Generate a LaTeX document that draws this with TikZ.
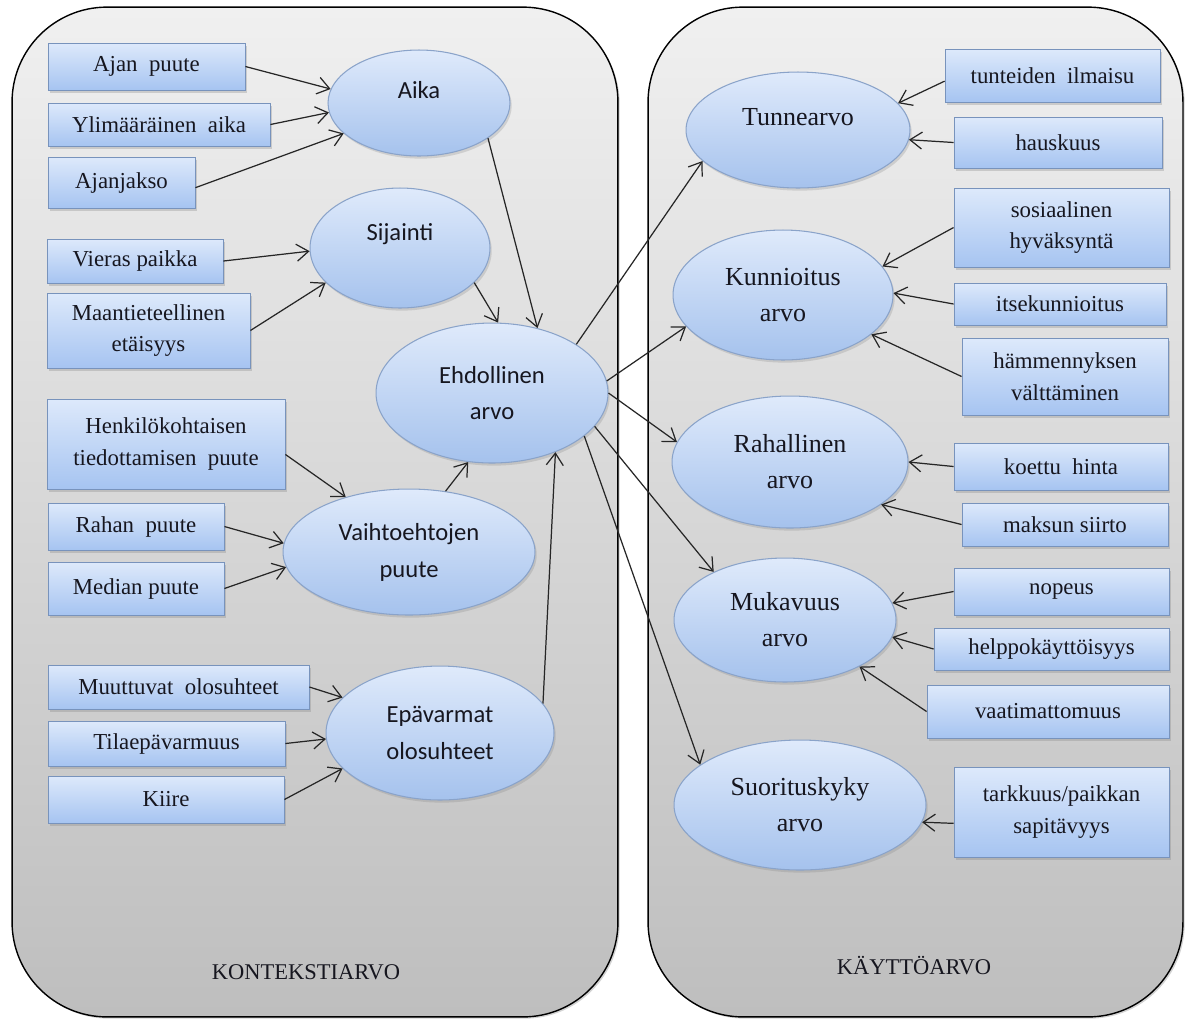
\documentclass[tikz,border=0pt]{standalone}
\usepackage{fontspec}
\setmainfont{Liberation Serif}
\newfontfamily\calibfont{Carlito}
\usetikzlibrary{arrows.meta, positioning, shapes.geometric, shadows}
\definecolor{boxtop}{HTML}{DDE9FB}
\definecolor{boxbot}{HTML}{A6C4F1}
\definecolor{boxline}{HTML}{7893BC}
\definecolor{elltop}{HTML}{DFEAFB}
\definecolor{ellbot}{HTML}{A5C2ED}
\definecolor{ellline}{HTML}{8AA3C9}
\definecolor{paneltop}{HTML}{F0F0F0}
\definecolor{panelbot}{HTML}{BEBEBE}
\definecolor{inktext}{HTML}{16161F}

\begin{document}
\begin{tikzpicture}[
	x=0.02cm, y=-0.02cm,
	panel/.style={draw=black, line width=0.8pt, rounded corners=1.9cm, top color=paneltop, bottom color=panelbot, drop shadow={shadow xshift=1pt, shadow yshift=-1pt, opacity=0.35}},
	paneltext/.style={font=\fontsize{12.8}{15}\selectfont, text=inktext},
	box/.style={draw=boxline, line width=0.5pt, top color=boxtop, bottom color=boxbot, align=center, inner sep=2pt, text=inktext, font=\fontsize{13}{18}\selectfont, drop shadow={shadow xshift=1.2pt, shadow yshift=-1.5pt, opacity=0.3}},
	ell/.style={ellipse, draw=ellline, line width=0.6pt, top color=elltop, bottom color=ellbot, align=center, inner sep=0pt, text=inktext, drop shadow={shadow xshift=1pt, shadow yshift=-1.5pt, opacity=0.25}},
	lell/.style={ell, font=\calibfont\fontsize{14}{21}\selectfont},
	rell/.style={ell, font=\fontsize{14.8}{20.5}\selectfont},
	arrow/.style={-{Straight Barb[length=2.4mm, width=3.4mm]}, line width=0.7pt, draw=black!85}
]
\useasboundingbox (0,0) rectangle (1189,1019);

\node[panel, minimum width=12.12cm, minimum height=20.2cm] (kontekstipaneeli) at (315,512) {};
\node[panel, minimum width=10.7cm, minimum height=20.2cm] (kayttopaneeli) at (915.5,512) {};
\node[paneltext] (kontekstiarvo) at (306,972) {KONTEKSTIARVO};
\node[paneltext] (kayttoarvo) at (914,966) {KÄYTTÖARVO};

\node[box, minimum width=3.94cm, minimum height=0.94cm] (ajan) at (146.5,66.5) {Ajan\ \ puute};
\node[box, minimum width=4.44cm, minimum height=0.86cm] (ylim) at (159,124.5) {Ylimääräinen\ \ aika};
\node[box, minimum width=2.94cm, minimum height=1.02cm] (jakso) at (121.5,182.5) {Ajanjakso};
\node[box, minimum width=3.52cm, minimum height=0.88cm] (vieras) at (135,261) {Vieras paikka};
\node[box, minimum width=4.06cm, minimum height=1.5cm] (maant) at (148.5,330.5) {Maantieteellinen\\etäisyys};
\node[box, minimum width=4.76cm, minimum height=1.8cm] (henk) at (166,444) {Henkilökohtaisen\\tiedottamisen\ \ puute};
\node[box, minimum width=3.52cm, minimum height=0.94cm] (rahan) at (136,526.5) {Rahan\ \ puute};
\node[box, minimum width=3.52cm, minimum height=1.06cm] (median) at (136,588.5) {Median puute};
\node[box, minimum width=5.22cm, minimum height=0.88cm] (muutt) at (178.5,687) {Muuttuvat\ \ olosuhteet};
\node[box, minimum width=4.74cm, minimum height=0.9cm] (tila) at (166.5,743.5) {Tilaepävarmuus};
\node[box, minimum width=4.72cm, minimum height=0.94cm] (kiire) at (166,799.5) {Kiire};

\node[lell, minimum width=3.64cm, minimum height=2.12cm, text depth=15pt] (aika) at (419,103) {Aika};
\node[lell, minimum width=3.6cm, minimum height=2.4cm, text depth=18pt] (sijainti) at (400,248) {Sijainti};
\node[lell, minimum width=4.64cm, minimum height=2.8cm] (ehd) at (492,393) {Ehdollinen\\arvo};
\node[lell, minimum width=5.04cm, minimum height=2.52cm] (vaihto) at (409,552) {Vaihtoehtojen\\puute};
\node[lell, minimum width=4.56cm, minimum height=2.68cm] (epav) at (440,733) {Epävarmat\\olosuhteet};

\node[rell, minimum width=4.48cm, minimum height=2.32cm, text depth=15pt] (tunne) at (798,130) {Tunnearvo};
\node[rell, minimum width=4.4cm, minimum height=2.6cm] (kunn) at (783,295) {Kunnioitus\\arvo};
\node[rell, minimum width=4.72cm, minimum height=2.64cm] (rahal) at (790,462) {Rahallinen\\arvo};
\node[rell, minimum width=4.44cm, minimum height=2.48cm] (mukav) at (785,620) {Mukavuus\\arvo};
\node[rell, minimum width=5.04cm, minimum height=2.6cm] (suor) at (800,805) {Suorituskyky\\arvo};

\node[box, minimum width=4.3cm, minimum height=1.06cm] (tunteet) at (1052.5,75.5) {tunteiden\ \ ilmaisu};
\node[box, minimum width=4.16cm, minimum height=1.02cm] (hausk) at (1058,142.5) {hauskuus};
\node[box, minimum width=4.3cm, minimum height=1.58cm] (sosiaal) at (1061.5,227.5) {sosiaalinen\\hyväksyntä};
\node[box, minimum width=4.24cm, minimum height=0.84cm] (itse) at (1060,304) {itsekunnioitus};
\node[box, minimum width=4.12cm, minimum height=1.54cm] (hamm) at (1065,376.5) {hämmennyksen\\välttäminen};
\node[box, minimum width=4.28cm, minimum height=0.94cm] (koettu) at (1061,466.5) {koettu\ \ hinta};
\node[box, minimum width=4.12cm, minimum height=0.86cm] (maksun) at (1065,524.5) {maksun siirto};
\node[box, minimum width=4.3cm, minimum height=0.94cm] (nopeus) at (1061.5,591.5) {nopeus};
\node[box, minimum width=4.7cm, minimum height=0.84cm] (helppo) at (1051.5,649) {helppokäyttöisyys};
\node[box, minimum width=4.84cm, minimum height=1.06cm] (vaati) at (1048,711.5) {vaatimattomuus};
\node[box, minimum width=4.3cm, minimum height=1.8cm] (tarkk) at (1061.5,812) {tarkkuus/paikkan\\sapitävyys};

\draw[arrow] (ajan.east) -- (aika.171);
\draw[arrow] (ylim.east) -- (aika.186);
\draw[arrow] (jakso.-4) -- (aika.202);
\draw[arrow] (vieras.east) -- (sijainti.182);
\draw[arrow] (maant.east) -- (sijainti.205);
\draw[arrow] (henk.-5) -- (vaihto.139);
\draw[arrow] (rahan.east) -- (vaihto.176);
\draw[arrow] (median.east) -- (vaihto.187);
\draw[arrow] (muutt.east) -- (epav.160);
\draw[arrow] (tila.east) -- (epav.183);
\draw[arrow] (kiire.east) -- (epav.200);

\draw[arrow] (aika.-27) -- (ehd.55);
\draw[arrow] (sijainti.-25) -- (ehd.85);
\draw[arrow] (vaihto.59) -- (ehd.251);
\draw[arrow] (epav.16) -- (ehd.-43);

\draw[arrow] (ehd.30) -- (tunne.198);
\draw[arrow] (ehd.6) -- (kunn.198);
\draw[arrow] (ehd.0) -- (rahal.170);
\draw[arrow] (ehd.-18) -- (mukav.146);
\draw[arrow] (ehd.-25) -- (suor.158);

\draw[arrow] (tunteet.183) -- (tunne.15);
\draw[arrow] (hausk.west) -- (tunne.-5);
\draw[arrow] (sosiaal.west) -- (kunn.16);
\draw[arrow] (itse.west) -- (kunn.1);
\draw[arrow] (hamm.west) -- (kunn.-24);
\draw[arrow] (koettu.west) -- (rahal.0);
\draw[arrow] (maksun.west) -- (rahal.-25);
\draw[arrow] (nopeus.west) -- (mukav.9);
\draw[arrow] (helppo.west) -- (mukav.-9);
\draw[arrow] (vaati.west) -- (mukav.-32);
\draw[arrow] (tarkk.186) -- (suor.-8);
\end{tikzpicture}
\end{document}
